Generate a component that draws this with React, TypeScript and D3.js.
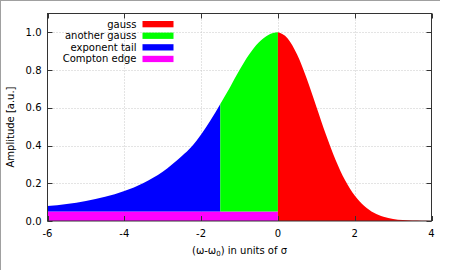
import * as d3 from 'd3';
import React from 'react';

// values
const gaussX = [0, 0.25, 0.5, 0.75, 1, 1.25, 1.5, 1.75, 2, 2.25, 2.5, 2.75, 3, 3.25, 3.5, 3.75, 4];
const gaussY = [1.0, 0.969, 0.882, 0.755, 0.607, 0.458, 0.325, 0.216, 0.135, 0.08, 0.044, 0.023, 0.011, 0.005, 0.002, 0.001, 0.0];

const anotherX = [-1.5, -1.25, -1, -0.75, -0.5, -0.25, 0];
const anotherY = [0.62, 0.708, 0.8, 0.882, 0.946, 0.986, 1.0];

const tailX = [-6, -5.5, -5, -4.5, -4, -3.5, -3, -2.5, -2.25, -2, -1.75, -1.5];
const tailY = [0.079, 0.09, 0.106, 0.128, 0.159, 0.202, 0.261, 0.344, 0.393, 0.459, 0.535, 0.62];

const comptonX = [-6, 0];
const comptonLevel = 0.05;

const xTicks = [-6, -4, -2, 0, 2, 4];
const yTicks = [0, 0.2, 0.4, 0.6, 0.8, 1.0];

const legendNames = ['gauss', 'another gauss', 'exponent tail', 'Compton edge'];
const legendColors = ['#ff0000', '#00ff00', '#0000ff', '#ff00ff'];

const W = 450;
const H = 270;
const plot = { left: 47.5, right: 431.5, top: 13.5, bottom: 221 };
const font = 'DejaVu Sans, sans-serif';

const App = () => {
    const x = d3.scaleLinear().domain([-6, 4]).range([plot.left, plot.right]);
    const y = d3.scaleLinear().domain([0, 1.1]).range([plot.bottom, plot.top]);

    const zip = (xs: number[], ys: number[]) => xs.map((v, i) => [v, ys[i]] as [number, number]);

    const areaFrom = (base: number) => d3.area<[number, number]>()
        .curve(d3.curveMonotoneX)
        .x(d => x(d[0]))
        .y0(y(base))
        .y1(d => y(d[1]));

    const comptonArea = d3.area<number>()
        .x(d => x(d))
        .y0(y(0))
        .y1(y(comptonLevel));

    const tickLen = 5;
    const px = (v: number) => Math.round(v) + 0.5;

    return (
        <svg width={W} height={H} style={{ position: 'absolute', left: 0, top: 0, background: '#fff' }}
            fontFamily={font}>
            {/* outer frame */}
            <line x1={0} x2={440} y1={0.5} y2={0.5} stroke="#a0a0a0" />
            <line x1={0.5} x2={0.5} y1={0} y2={H} stroke="#a0a0a0" />

            {/* grid */}
            <g stroke="#c8c8c8" strokeDasharray="1,2" strokeWidth={1}>
                {xTicks.slice(1, -1).map(t => (
                    <line key={'gx' + t} x1={px(x(t))} x2={px(x(t))} y1={plot.top} y2={plot.bottom} />
                ))}
                {yTicks.slice(1).map(t => (
                    <line key={'gy' + t} x1={plot.left} x2={plot.right} y1={px(y(t))} y2={px(y(t))} />
                ))}
            </g>

            {/* fills */}
            <path d={comptonArea(comptonX) || ''} fill="#ff00ff" />
            <path d={areaFrom(comptonLevel)(zip(tailX, tailY)) || ''} fill="#0000ff" />
            <path d={areaFrom(comptonLevel)(zip(anotherX, anotherY)) || ''} fill="#00ff00" />
            <path d={areaFrom(0)(zip(gaussX, gaussY)) || ''} fill="#ff0000" />

            {/* border and ticks */}
            <rect x={plot.left} y={plot.top} width={plot.right - plot.left} height={plot.bottom - plot.top}
                fill="none" stroke="#333" strokeWidth={1} />
            <g stroke="#333">
                {xTicks.map(t => (
                    <g key={'tx' + t}>
                        <line x1={px(x(t))} x2={px(x(t))} y1={plot.bottom} y2={plot.bottom - tickLen} />
                        <line x1={px(x(t))} x2={px(x(t))} y1={plot.top} y2={plot.top + tickLen} />
                    </g>
                ))}
                {yTicks.map(t => (
                    <g key={'ty' + t}>
                        <line x1={plot.left} x2={plot.left + tickLen} y1={px(y(t))} y2={px(y(t))} />
                        <line x1={plot.right} x2={plot.right - tickLen} y1={px(y(t))} y2={px(y(t))} />
                    </g>
                ))}
            </g>

            {/* tick labels */}
            <g fontSize={10} fill="#000">
                {xTicks.map(t => (
                    <text key={'lx' + t} x={x(t)} y={plot.bottom + 16} textAnchor="middle">{t}</text>
                ))}
                {yTicks.map(t => (
                    <text key={'ly' + t} x={plot.left - 6} y={y(t) + 3.5} textAnchor="end">{t.toFixed(1)}</text>
                ))}
            </g>

            {/* axis labels */}
            <text x={(plot.left + plot.right) / 2} y={254} textAnchor="middle" fontSize={10}>
                (ω-ω<tspan fontSize={7} dy={2}>0</tspan><tspan dy={-2}>) in units of σ</tspan>
            </text>
            <text transform={`translate(14,127) rotate(-90)`} textAnchor="middle" fontSize={10}>Amplitude [a.u.]</text>

            {/* legend */}
            <g fontSize={10}>
                {legendNames.map((name, i) => (
                    <g key={name} transform={`translate(0,${24 + i * 11.6})`}>
                        <text x={136.5} y={3.5} textAnchor="end">{name}</text>
                        <rect x={142.5} y={-3} width={31} height={6.3} fill={legendColors[i]} />
                    </g>
                ))}
            </g>
        </svg>
    );
};

export default App;
